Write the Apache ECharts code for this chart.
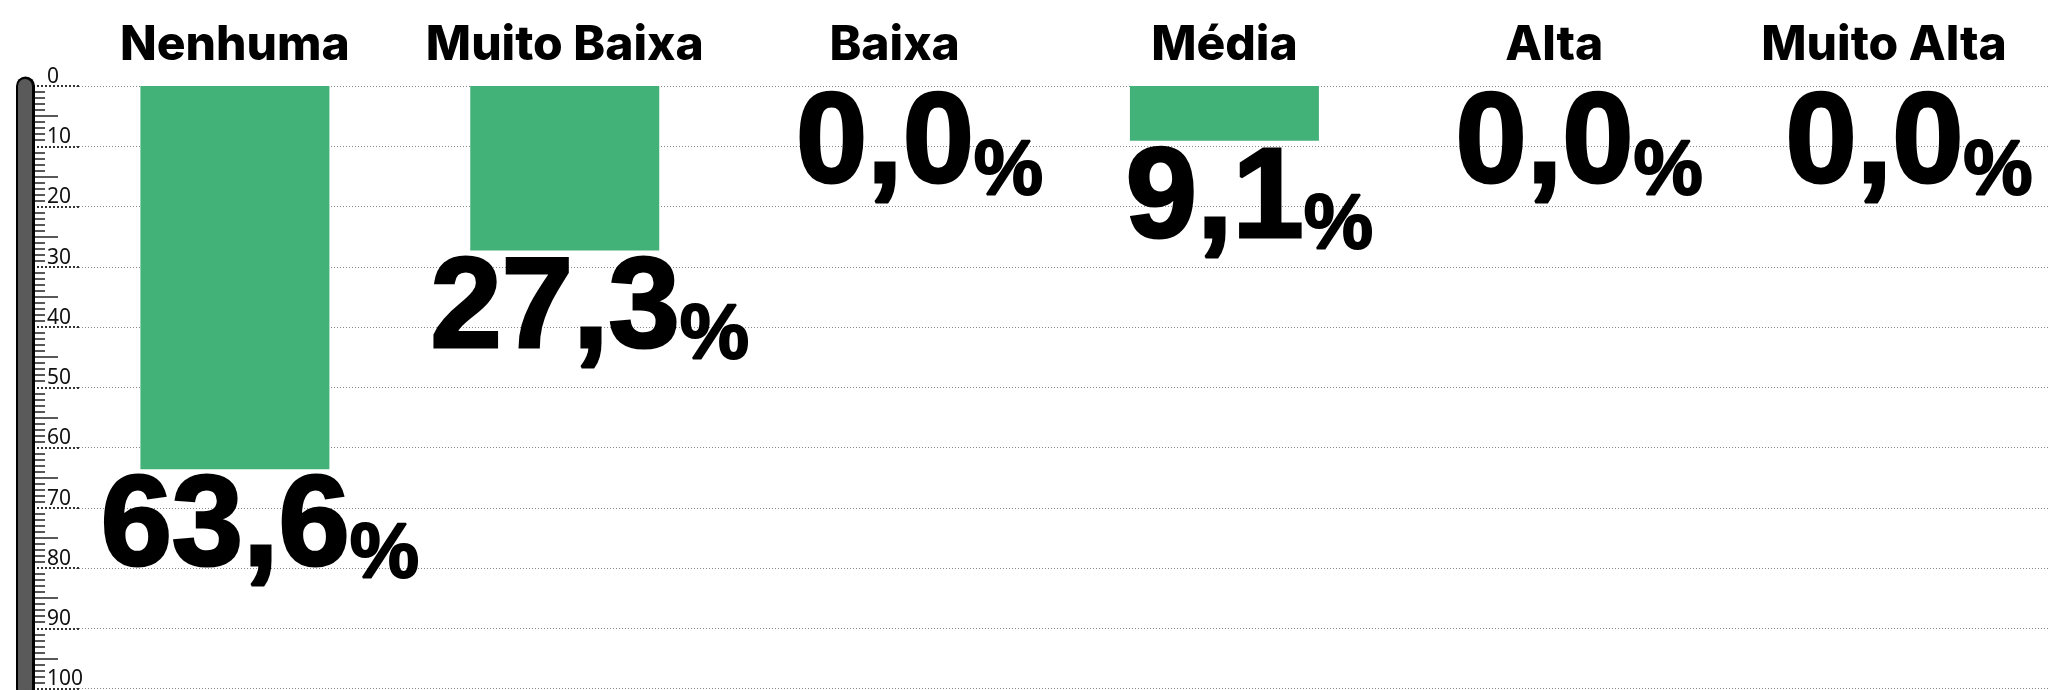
<!DOCTYPE html>
<html>
<head>
<meta charset="utf-8">
<script src="https://cdn.jsdelivr.net/npm/echarts@6/dist/echarts.min.js"></script>
<style>
  html, body { margin: 0; padding: 0; background: #fff; }
  #chart { width: 2049px; height: 690px; }
</style>
</head>
<body>
<div id="chart"></div>
<script>
const categories = ['Nenhuma', 'Muito Baixa', 'Baixa', 'Média', 'Alta', 'Muito Alta']
const values = [63.6, 27.3, 0.0, 9.1, 0.0, 0.0]
const midTicks = [5, 15, 25, 35, 45, 55, 65, 75, 85, 95]

const green = '#43b279'
const axisOffset = 45
const numFont = '"Liberation Sans", Arial, sans-serif'

const chart = echarts.init(document.getElementById('chart'))

// eixo base do "termometro" (min/max comuns)
const baseAxis = {
  type: 'value',
  inverse: true,
  min: 0,
  max: 100,
  interval: 10,
  position: 'left',
  offset: axisOffset
}

chart.setOption({
  animation: false,
  grid: { left: 70, right: -12, top: 86, bottom: -4 },
  xAxis: {
    type: 'category',
    position: 'top',
    data: categories,
    axisLine: { show: false, onZero: false },
    axisTick: { show: false },
    axisLabel: {
      interval: 0,
      margin: 16,
      fontSize: 48,
      fontWeight: 800,
      fontFamily: 'Inter, "Noto Sans", sans-serif',
      color: '#000'
    }
  },
  yAxis: [
    Object.assign({}, baseAxis, {
      axisLine: { show: false },
      axisTick: {
        show: true,
        inside: true,
        length: 54,
        lineStyle: { color: '#333', width: 2, type: 'dotted' }
      },
      minorTick: {
        show: true,
        splitNumber: 10,
        length: 20,
        lineStyle: { color: '#222', width: 1.5 }
      },
      splitLine: {
        show: true,
        lineStyle: { color: '#888', width: 1, type: [1, 2] }
      },
      axisLabel: {
        inside: true,
        margin: 22,
        verticalAlign: 'bottom',
        lineHeight: 18,
        fontSize: 21,
        fontFamily: '"Noto Sans", Lato, sans-serif',
        color: '#111'
      }
    }),
    Object.assign({}, baseAxis, {
      axisLine: { show: false },
      axisTick: {
        show: true,
        inside: true,
        length: 33,
        customValues: midTicks,
        lineStyle: { color: '#222', width: 1.5 }
      },
      splitLine: { show: false },
      axisLabel: { show: false }
    }),
    Object.assign({}, baseAxis, {
      z: 5,
      axisLine: { show: true, lineStyle: { color: '#000', width: 19, cap: 'round' } },
      axisTick: { show: false },
      splitLine: { show: false },
      axisLabel: { show: false }
    }),
    Object.assign({}, baseAxis, {
      z: 6,
      axisLine: { show: true, lineStyle: { color: '#5a5a5a', width: 14, cap: 'round' } },
      axisTick: { show: false },
      splitLine: { show: false },
      axisLabel: { show: false }
    })
  ],
  series: [{
    type: 'bar',
    data: values,
    barWidth: 189,
    itemStyle: { color: green },
    label: {
      show: true,
      position: 'bottom',
      distance: 25,
      offset: [25, 0],
      formatter: p => '{n|' + p.value.toFixed(1).replace('.', ',') + '}{p|%}',
      rich: {
        n: {
          fontFamily: numFont,
          fontWeight: 'bold',
          fontSize: 128,
          lineHeight: 100,
          verticalAlign: 'bottom',
          color: '#000',
          textBorderColor: '#000',
          textBorderWidth: 3
        },
        p: {
          fontFamily: numFont,
          fontWeight: 'bold',
          fontSize: 78,
          lineHeight: 66,
          verticalAlign: 'bottom',
          color: '#000',
          textBorderColor: '#000',
          textBorderWidth: 2
        }
      }
    }
  }]
})
</script>
</body>
</html>
